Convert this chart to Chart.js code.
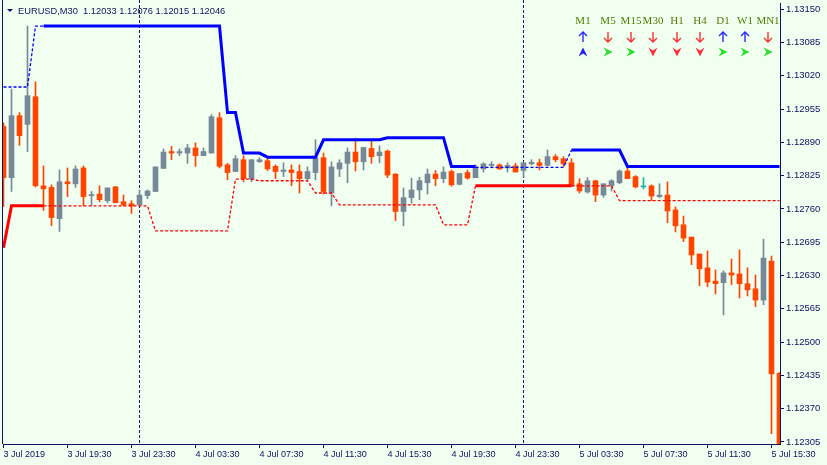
<!DOCTYPE html>
<html>
<head>
<meta charset="utf-8">
<script src="https://cdn.jsdelivr.net/npm/chart.js@4.4.1/dist/chart.umd.min.js"></script>
<style>
  html, body { margin: 0; padding: 0; background: #f0fff0; overflow: hidden; }
  canvas { display: block; }
</style>
</head>
<body>
<canvas id="chart" width="827" height="465"></canvas>
<script>
// ---------- Data (EURUSD M30, bar 0 = 3 Jul 15:30) ----------
const opens = [1.12921,1.12821,1.12942,1.12925,1.12979,1.12805,1.12802,1.12741,1.12813,1.12809,
  1.12840,1.12786,1.12789,1.12776,1.12803,1.12774,1.12770,1.12768,1.12786,1.12794,
  1.12839,1.12872,1.12869,1.12869,1.12879,1.12864,1.12869,1.12938,1.12846,1.12833,
  1.12856,1.12818,1.12852,1.12854,1.12843,1.12833,1.12836,1.12833,1.12819,1.12831,
  1.12860,1.12791,1.12838,1.12849,1.12871,1.12852,1.12878,1.12864,1.12873,1.12828,
  1.12755,1.12782,1.12797,1.12811,1.12828,1.12819,1.12833,1.12808,1.12831,1.12821,
  1.12838,1.12845,1.12846,1.12840,1.12844,1.12835,1.12848,1.12850,1.12845,1.12862,
  1.12858,1.12850,1.12809,1.12793,1.12815,1.12787,1.12805,1.12811,1.12834,1.12823,
  1.12803,1.12805,1.12784,1.12787,1.12758,1.12729,1.12705,1.12672,1.12645,1.12619,
  1.12616,1.12635,1.12633,1.12614,1.12604,1.12582,1.12658,1.12439];
const highs = [1.12928,1.12994,1.12948,1.13117,1.13008,1.12844,1.12807,1.12836,1.12840,1.12844,
  1.12844,1.12794,1.12805,1.12801,1.12804,1.12787,1.12776,1.12797,1.12797,1.12842,
  1.12877,1.12882,1.12877,1.12886,1.12889,1.12879,1.12944,1.12948,1.12849,1.12864,
  1.12864,1.12856,1.12860,1.12860,1.12846,1.12850,1.12846,1.12846,1.12842,1.12895,
  1.12869,1.12852,1.12856,1.12879,1.12898,1.12880,1.12895,1.12883,1.12875,1.12829,
  1.12801,1.12820,1.12822,1.12838,1.12835,1.12842,1.12836,1.12829,1.12836,1.12846,
  1.12850,1.12852,1.12848,1.12850,1.12849,1.12850,1.12856,1.12857,1.12875,1.12866,
  1.12862,1.12858,1.12819,1.12821,1.12816,1.12809,1.12817,1.12836,1.12842,1.12825,
  1.12821,1.12807,1.12809,1.12813,1.12764,1.12746,1.12705,1.12672,1.12678,1.12641,
  1.12639,1.12662,1.12680,1.12645,1.12631,1.12701,1.12668,1.12441];
const lows = [1.12765,1.12794,1.12884,1.12872,1.12803,1.12757,1.12727,1.12716,1.12784,1.12802,
  1.12766,1.12766,1.12774,1.12772,1.12772,1.12766,1.12751,1.12765,1.12780,1.12794,
  1.12839,1.12856,1.12864,1.12849,1.12843,1.12864,1.12869,1.12840,1.12817,1.12833,
  1.12813,1.12813,1.12851,1.12835,1.12819,1.12823,1.12805,1.12791,1.12817,1.12817,
  1.12789,1.12766,1.12823,1.12811,1.12834,1.12836,1.12849,1.12850,1.12821,1.12737,
  1.12727,1.12771,1.12778,1.12789,1.12805,1.12811,1.12804,1.12807,1.12818,1.12821,
  1.12832,1.12840,1.12837,1.12832,1.12832,1.12822,1.12846,1.12836,1.12844,1.12852,
  1.12843,1.12805,1.12791,1.12791,1.12774,1.12783,1.12795,1.12809,1.12819,1.12801,
  1.12799,1.12776,1.12782,1.12733,1.12715,1.12696,1.12651,1.12610,1.12608,1.12594,
  1.12553,1.12612,1.12586,1.12590,1.12569,1.12573,1.12321,1.12250];
const closes = [1.12821,1.12942,1.12903,1.12981,1.12805,1.12799,1.12743,1.12813,1.12809,1.12838,
  1.12784,1.12788,1.12778,1.12801,1.12772,1.12768,1.12766,1.12787,1.12795,1.12842,
  1.12871,1.12869,1.12872,1.12879,1.12864,1.12872,1.12940,1.12843,1.12831,1.12858,
  1.12819,1.12856,1.12856,1.12838,1.12833,1.12836,1.12831,1.12819,1.12833,1.12860,
  1.12794,1.12842,1.12850,1.12871,1.12852,1.12880,1.12862,1.12871,1.12826,1.12755,
  1.12782,1.12797,1.12815,1.12828,1.12819,1.12832,1.12807,1.12829,1.12820,1.12842,
  1.12848,1.12847,1.12838,1.12845,1.12832,1.12850,1.12851,1.12845,1.12862,1.12856,
  1.12848,1.12805,1.12795,1.12815,1.12787,1.12809,1.12815,1.12834,1.12819,1.12803,
  1.12803,1.12785,1.12787,1.12756,1.12727,1.12703,1.12670,1.12643,1.12617,1.12614,
  1.12635,1.12631,1.12614,1.12602,1.12582,1.12664,1.12438,1.12270];

// indicator levels, null where the buffer is empty
const N = null;
const upperSolid = [N,N,N,N,N,1.13117,1.13117,1.13117,1.13117,1.13117,
  1.13117,1.13117,1.13117,1.13117,1.13117,1.13117,1.13117,1.13117,1.13117,1.13117,
  1.13117,1.13117,1.13117,1.13117,1.13117,1.13117,1.13117,1.13117,1.12948,1.12948,
  1.12869,1.12869,1.12869,1.12861,1.12861,1.12861,1.12861,1.12861,1.12861,1.12861,
  1.12895,1.12895,1.12895,1.12895,1.12895,1.12895,1.12895,1.12895,1.12899,1.12899,
  1.12899,1.12899,1.12899,1.12899,1.12899,1.12899,1.12843,1.12843,1.12843,1.12843,
  N,N,N,N,N,N,N,N,N,N,
  N,1.12875,1.12875,1.12875,1.12875,1.12875,1.12875,1.12875,1.12843,1.12843,
  1.12843,1.12843,1.12843,1.12843,1.12843,1.12843,1.12843,1.12843,1.12843,1.12843,
  1.12843,1.12843,1.12843,1.12843,1.12843,1.12843,1.12843,1.12843];
const upperDash = [1.12998,1.12998,1.12998,1.12998,1.13117,1.13117,N,N,N,N,
  N,N,N,N,N,N,N,N,N,N, N,N,N,N,N,N,N,N,N,N, N,N,N,N,N,N,N,N,N,N,
  N,N,N,N,N,N,N,N,N,N, N,N,N,N,N,N,N,N,N,1.12841,
  1.12841,1.12841,1.12841,1.12841,1.12841,1.12841,1.12841,1.12841,1.12841,1.12841,
  1.12841,1.12875,N,N,N,N,N,N,N,N, N,N,N,N,N,N,N,N,N,N, N,N,N,N,N,N,N,N];
const lowerSolid = [1.12684,1.12766,1.12766,1.12766,1.12766,1.12766,N,N,N,N,
  N,N,N,N,N,N,N,N,N,N, N,N,N,N,N,N,N,N,N,N, N,N,N,N,N,N,N,N,N,N,
  N,N,N,N,N,N,N,N,N,N, N,N,N,N,N,N,N,N,N,1.12805,
  1.12805,1.12805,1.12805,1.12805,1.12805,1.12805,1.12805,1.12805,1.12805,1.12805,
  1.12805,1.12805,N,N,N,N,N,N,N,N, N,N,N,N,N,N,N,N,N,N, N,N,N,N,N,N,N,N];
const lowerDash = [N,N,N,N,N,1.12766,1.12766,1.12766,1.12766,1.12766,
  1.12766,1.12766,1.12766,1.12766,1.12766,1.12766,1.12766,1.12766,1.12766,1.12717,
  1.12717,1.12717,1.12717,1.12717,1.12717,1.12717,1.12717,1.12717,1.12717,1.12818,
  1.12818,1.12818,1.12815,1.12815,1.12815,1.12815,1.12815,1.12815,1.12815,1.12791,
  1.12791,1.12791,1.12768,1.12768,1.12768,1.12768,1.12768,1.12768,1.12768,1.12768,
  1.12768,1.12768,1.12768,1.12768,1.12768,1.12729,1.12729,1.12729,1.12729,1.12805,
  N,N,N,N,N,N,N,N,N,N,
  N,1.12805,1.12805,1.12805,1.12805,1.12805,1.12805,1.12776,1.12776,1.12776,
  1.12776,1.12776,1.12776,1.12776,1.12776,1.12776,1.12776,1.12776,1.12776,1.12776,
  1.12776,1.12776,1.12776,1.12776,1.12776,1.12776,1.12776,1.12776];

const xTickIdx = [0, 8, 16, 24, 32, 40, 48, 56, 64, 72, 80, 88, 96];
const xTickLabels = ['3 Jul 2019', '3 Jul 19:30', '3 Jul 23:30', '4 Jul 03:30', '4 Jul 07:30',
  '4 Jul 11:30', '4 Jul 15:30', '4 Jul 19:30', '4 Jul 23:30', '5 Jul 03:30', '5 Jul 07:30',
  '5 Jul 11:30', '5 Jul 15:30'];
const yTicks = [1.12305, 1.12370, 1.12435, 1.12500, 1.12565, 1.12630, 1.12695,
  1.12760, 1.12825, 1.12890, 1.12955, 1.13020, 1.13085, 1.13150];
const daySeparators = [17, 65]; // 4 Jul 00:00, 5 Jul 00:00

const titleText = 'EURUSD,M30  1.12033 1.12076 1.12015 1.12046';
const tfLabels = ['M1', 'M5', 'M15', 'M30', 'H1', 'H4', 'D1', 'W1', 'MN1'];
const tfTrend = ['up', 'down', 'down', 'down', 'down', 'down', 'up', 'up', 'down'];
const tfSignal = ['up', 'right', 'right', 'down', 'down', 'down', 'right', 'right', 'right'];

// ---------- Style ----------
const NAVY = '#101066';
const BULL = '#778899';
const BEAR = '#ff4500';
const DOJI = '#20b2aa';
const FONT = 'Liberation Sans';

const candleColors = opens.map((o, i) => closes[i] > o ? BULL : closes[i] < o ? BEAR : DOJI);
const pts = arr => arr.map((v, i) => ({ x: i, y: v }));

// ---------- Extra drawing (title, separators, panel) ----------
function arrowHead(ctx, cx, cy, dir, fill) {
  const base = [[-4.5, -4.5], [4.5, 0], [-4.5, 4.5], [-1.5, 0]];
  const rot = { right: p => p, down: p => [-p[1], p[0]], up: p => [p[1], -p[0]] }[dir];
  ctx.beginPath();
  base.map(rot).forEach((p, k) => k ? ctx.lineTo(cx + p[0], cy + p[1]) : ctx.moveTo(cx + p[0], cy + p[1]));
  ctx.closePath();
  ctx.fillStyle = fill;
  ctx.fill();
}

function lineArrow(ctx, cx, cy, dir, color) {
  const s = dir === 'up' ? -1 : 1;
  ctx.strokeStyle = color;
  ctx.lineWidth = 1.4;
  ctx.beginPath();
  ctx.moveTo(cx, cy - 5 * s);
  ctx.lineTo(cx, cy + 5 * s);
  ctx.moveTo(cx - 4, cy + 1 * s);
  ctx.lineTo(cx, cy + 5 * s);
  ctx.lineTo(cx + 4, cy + 1 * s);
  ctx.stroke();
}

const decorPlugin = {
  id: 'decor',
  beforeDatasetsDraw(chart) {
    const { ctx, chartArea, scales } = chart;
    ctx.save();
    ctx.strokeStyle = NAVY;
    ctx.lineWidth = 1;
    ctx.setLineDash([3, 2]);
    daySeparators.forEach(i => {
      const x = Math.round(scales.x.getPixelForValue(i)) - 0.5;
      ctx.beginPath();
      ctx.moveTo(x, 0);
      ctx.lineTo(x, chartArea.bottom);
      ctx.stroke();
    });
    ctx.setLineDash([]);
    // left frame line
    ctx.beginPath();
    ctx.moveTo(chartArea.left - 0.5, 0);
    ctx.lineTo(chartArea.left - 0.5, chartArea.bottom);
    ctx.stroke();
    ctx.restore();
  },
  afterDraw(chart) {
    const { ctx } = chart;
    ctx.save();
    // title
    ctx.fillStyle = NAVY;
    ctx.beginPath();
    ctx.moveTo(7, 9); ctx.lineTo(13, 9); ctx.lineTo(10, 12); ctx.closePath();
    ctx.fill();
    ctx.font = '9.3px "' + FONT + '"';
    ctx.textBaseline = 'middle';
    ctx.fillText(titleText, 18, 11);
    // timeframe panel
    const cols = [583, 608, 631, 653, 677, 700, 723, 745, 768];
    ctx.font = '11px "Liberation Serif"';
    ctx.textAlign = 'center';
    tfLabels.forEach((t, k) => {
      ctx.fillStyle = '#4f7d00';
      ctx.fillText(t, cols[k], 21);
      lineArrow(ctx, cols[k], 37, tfTrend[k], tfTrend[k] === 'up' ? '#2a2aff' : '#ff3030');
      const sig = tfSignal[k];
      arrowHead(ctx, cols[k], 52, sig, sig === 'up' ? '#2020ee' : sig === 'down' ? '#ff3040' : '#28e028');
    });
    ctx.restore();
  }
};

// ---------- Chart ----------
new Chart(document.getElementById('chart'), {
  type: 'bar',
  data: {
    datasets: [
      { type: 'line', data: pts(upperSolid), borderColor: '#0000ff', borderWidth: 3, pointRadius: 0, spanGaps: false, order: 0 },
      { type: 'line', data: pts(lowerSolid), borderColor: '#ff0000', borderWidth: 3, pointRadius: 0, spanGaps: false, order: 0 },
      { type: 'line', data: pts(upperDash), borderColor: '#0000ff', borderWidth: 1.3, borderDash: [3, 2], pointRadius: 0, spanGaps: false, order: 1 },
      { type: 'line', data: pts(lowerDash), borderColor: '#ff0000', borderWidth: 1.3, borderDash: [3, 2], pointRadius: 0, spanGaps: false, order: 1 },
      { data: opens.map((o, i) => ({ x: i, y: [o, closes[i]] })), backgroundColor: candleColors,
        barThickness: 5, minBarLength: 1, grouped: false, order: 2 },
      { data: lows.map((l, i) => ({ x: i, y: [l, highs[i]] })), backgroundColor: candleColors,
        barThickness: 1, minBarLength: 1, grouped: false, order: 3 }
    ]
  },
  options: {
    responsive: false,
    animation: false,
    devicePixelRatio: 1,
    layout: { padding: { left: 3, top: 3, right: 0, bottom: 0 } },
    plugins: { legend: { display: false }, tooltip: { enabled: false } },
    events: [],
    scales: {
      x: {
        type: 'linear',
        min: -0.0625,
        max: 97.0625,
        offset: false,
        afterFit: s => { s.height = 21; s.paddingLeft = 0; s.paddingRight = 0; },
        afterBuildTicks: s => { s.ticks = xTickIdx.map(v => ({ value: v })); },
        grid: { offset: false, drawOnChartArea: false, drawTicks: true, tickLength: 4, color: NAVY },
        border: { display: true, color: NAVY },
        ticks: {
          autoSkip: false, maxRotation: 0, align: 'start', padding: 1,
          color: NAVY, font: { family: FONT, size: 9 },
          callback: v => xTickLabels[xTickIdx.indexOf(v)]
        }
      },
      y: {
        position: 'right',
        min: 1.12301,
        max: 1.13162,
        afterFit: s => { s.width = 47; s.paddingTop = 0; s.paddingBottom = 0; },
        afterBuildTicks: s => { s.ticks = yTicks.map(v => ({ value: v })); },
        grid: { drawOnChartArea: false, drawTicks: true, tickLength: 4, color: NAVY },
        border: { display: true, color: NAVY },
        ticks: {
          padding: 2, color: NAVY, font: { family: FONT, size: 9.5 },
          callback: v => v.toFixed(5)
        }
      }
    }
  },
  plugins: [decorPlugin]
});
</script>
</body>
</html>
